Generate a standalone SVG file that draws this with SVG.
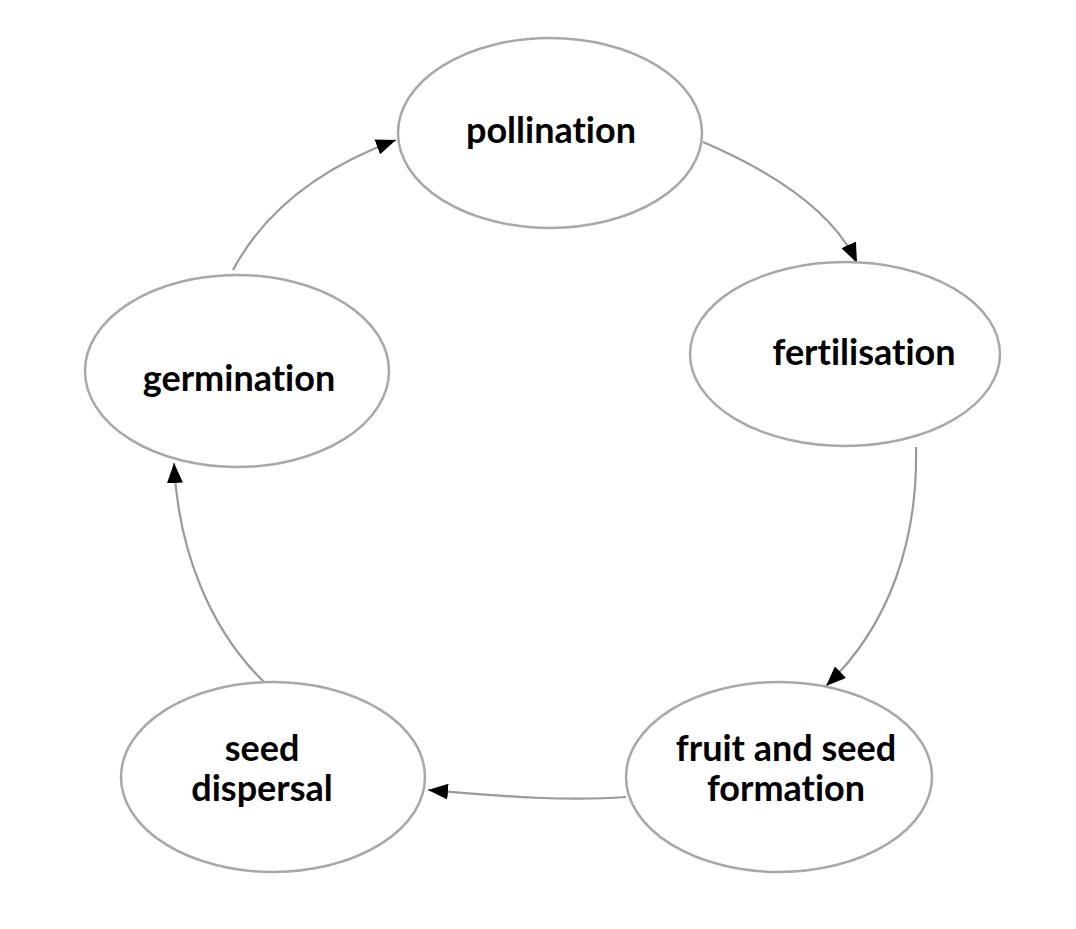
<svg xmlns="http://www.w3.org/2000/svg" width="1076" height="929" viewBox="0 0 1076 929">
<defs>
<style>
.node ellipse{fill:#fff;stroke:#a8a8a8;stroke-width:2.5}
.node text{font-family:Lato,"Open Sans","Liberation Sans",sans-serif;font-weight:700;font-size:36px;fill:#000;text-anchor:middle;font-variant-ligatures:none}
.edges path{fill:none;stroke:#9a9a9a;stroke-width:2.2}
</style>
<marker id="arr" viewBox="0 0 20 16" refX="20" refY="8" markerWidth="20" markerHeight="16" markerUnits="userSpaceOnUse" orient="auto">
<path d="M0,0 L20,8 L0,16 Z" fill="#000"/>
</marker>
</defs>
<rect width="1076" height="929" fill="#fff"/>
<g class="edges">
<path d="M703,142 C780,175 835,215 857,263" marker-end="url(#arr)"/>
<path d="M916,447 C918,540 890,625 826,686" marker-end="url(#arr)"/>
<path d="M626,797 C560,802 490,795 428,790" marker-end="url(#arr)"/>
<path d="M265,683 C210,630 178,550 174,463" marker-end="url(#arr)"/>
<path d="M233,270 C265,210 320,168 396,140" marker-end="url(#arr)"/>
</g>
<g id="pollination" class="node">
<ellipse cx="550" cy="133" rx="152" ry="95"/>
<text x="551" y="143">pollination</text>
</g>
<g id="fertilisation" class="node">
<ellipse cx="845" cy="354" rx="155" ry="92"/>
<text x="864" y="365">fertilisation</text>
</g>
<g id="fruit" class="node">
<ellipse cx="779" cy="777" rx="153" ry="95"/>
<text x="786" y="761">fruit and seed</text>
<text x="786" y="801">formation</text>
</g>
<g id="seed" class="node">
<ellipse cx="273" cy="777" rx="152" ry="95"/>
<text x="262" y="761">seed</text>
<text x="262" y="801">dispersal</text>
</g>
<g id="germination" class="node">
<ellipse cx="237" cy="371" rx="152" ry="96"/>
<text x="239" y="391">germination</text>
</g>
</svg>
